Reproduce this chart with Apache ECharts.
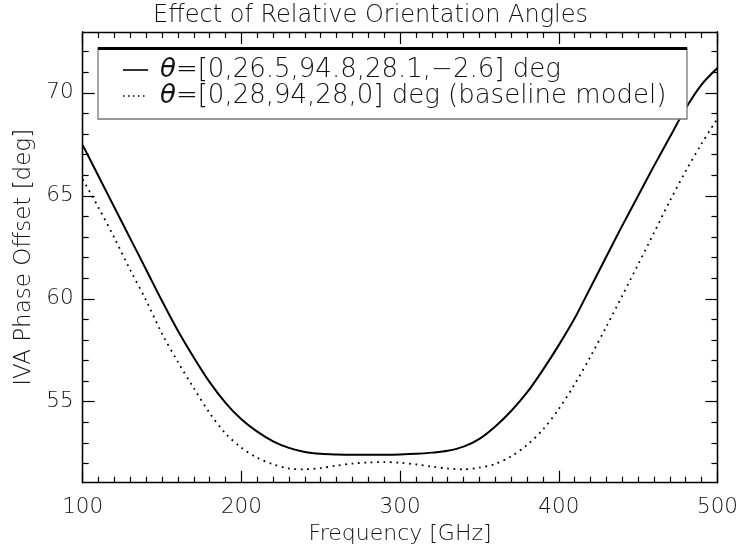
<!DOCTYPE html>
<html>
<head>
<meta charset="utf-8">
<script src="https://cdn.jsdelivr.net/npm/echarts@6/dist/echarts.min.js"></script>
<style>
html,body{margin:0;padding:0;background:#fff;}
#chart{width:741px;height:554px;}
</style>
</head>
<body>
<div id="chart"></div>
<script>
// ---- data ----
const freq = [100,110,120,130,140,150,160,170,180,190,200,210,220,230,240,250,260,270,280,290,300,
              310,320,330,340,350,360,370,380,390,400,410,420,430,440,450,460,470,480,490,500];
const fitted = [67.46,65.95,64.43,62.92,61.41,59.89,58.45,57.15,55.95,54.95,54.15,53.55,53.08,52.76,52.56,52.47,52.44,52.43,52.43,52.43,52.44,
                52.47,52.53,52.62,52.82,53.20,53.80,54.55,55.45,56.55,57.75,59.05,60.55,62.05,63.55,65.00,66.45,67.85,69.25,70.40,71.20];
const baseline = [65.80,64.42,62.95,61.39,59.92,58.30,56.93,55.66,54.45,53.46,52.77,52.28,51.96,51.76,51.72,51.78,51.90,52.00,52.05,52.07,52.04,
                  51.96,51.85,51.76,51.72,51.80,51.98,52.35,52.90,53.65,54.65,55.85,57.20,58.65,60.15,61.67,63.20,64.75,66.20,67.53,68.75];
const yMajorTicks = [55,60,65,70];
const yMinorTicks = [52,53,54,56,57,58,59,61,62,63,64,66,67,68,69,71,72];
const titleText = 'Effect of Relative Orientation Angles';
const xName = 'Frequency [GHz]';
const yName = 'IVA Phase Offset [deg]';
const legendSymbol = 'θ';
const legend1 = '=[0,26.5,94.8,28.1,−2.6] deg';
const legend2 = '=[0,28,94,28,0] deg (baseline model)';

const X_MIN = 100, X_MAX = 500, Y_MIN = 51.07, Y_MAX = 72.95;
const FONT = "'DejaVu Sans', sans-serif";
const TXT = '#111';

const chart = echarts.init(document.getElementById('chart'));
const lineCol = '#000';
function yAx(pos, major, showLabel){
  return {
    type:'value', min:Y_MIN, max:Y_MAX, position:pos, scale:true,
    axisLine:{show:true, onZero:false, lineStyle:{color:lineCol,width:1.3}},
    axisTick:{show:true, inside:true, length: major?12:6, customValues: major?yMajorTicks:yMinorTicks, lineStyle:{color:lineCol,width:1.2}},
    axisLabel:{show:showLabel, customValues: yMajorTicks, margin:9, fontFamily:FONT, fontSize:21.5, color:TXT, fontWeight:200},
    splitLine:{show:false}
  };
}
function xAx(pos, showLabel){
  return {
    type:'value', min:X_MIN, max:X_MAX, interval:100, position:pos,
    axisLine:{show:true, onZero:false, lineStyle:{color:lineCol,width:1.3}},
    axisTick:{show:true, inside:true, length:12, lineStyle:{color:lineCol,width:1.2}},
    minorTick:{show:true, splitNumber:10, length:6, lineStyle:{color:lineCol,width:1.2}},
    axisLabel:{show:showLabel, margin:14, fontFamily:FONT, fontSize:21.5, color:TXT, fontWeight:200},
    splitLine:{show:false}, minorSplitLine:{show:false}
  };
}
const xA = xAx('bottom', true);
xA.name = xName; xA.nameLocation = 'middle'; xA.nameGap = 41;
xA.nameTextStyle = {fontFamily:FONT, fontSize:22, color:TXT, fontWeight:200};
const yA = yAx('left', true, true);
yA.name = yName; yA.nameLocation = 'middle'; yA.nameGap = 41;
yA.nameTextStyle = {fontFamily:FONT, fontSize:23, color:TXT, fontWeight:200};

const legRich = {
  th:{fontFamily:FONT, fontSize:26, fontStyle:'italic', fontWeight:200, fill:TXT},
  t:{fontFamily:FONT, fontSize:26, fontWeight:200, fill:TXT}
};

const option = {
  animation:false,
  backgroundColor:'#fff',
  title:{text:titleText, left:'center', top:-1, textStyle:{fontFamily:FONT, fontSize:24, fontWeight:200, color:TXT}},
  grid:{left:82.7, right:22, top:32, bottom:71.3, containLabel:false},
  xAxis:[xA, xAx('top', false)],
  yAxis:[yA, yAx('left', false, false), yAx('right', true, false), yAx('right', false, false)],
  series:[
    {type:'line', name:'fitted', xAxisIndex:0, yAxisIndex:0, data: freq.map((f,i)=>[f,fitted[i]]),
     showSymbol:false, smooth:0.3, lineStyle:{color:'#000', width:2}, z:3},
    {type:'line', name:'baseline', xAxisIndex:0, yAxisIndex:0, data: freq.map((f,i)=>[f,baseline[i]]),
     showSymbol:false, smooth:0.3, lineStyle:{color:'#000', width:1.8, type:[1.8,4.6]}, z:3}
  ],
  graphic:[
    {type:'rect', shape:{x:98, y:48, width:589, height:71}, style:{fill:'#fff', stroke:'#777', lineWidth:1.3}, z:10},
    {type:'line', shape:{x1:98, y1:48.5, x2:687, y2:48.5}, style:{stroke:'#000', lineWidth:3}, z:11},
    {type:'line', shape:{x1:123, y1:70, x2:148, y2:70}, style:{stroke:'#000', lineWidth:1.6}, z:11},
    {type:'line', shape:{x1:123, y1:96, x2:148, y2:96}, style:{stroke:'#000', lineWidth:1.6, lineDash:[1.5,3.5]}, z:11},
    {type:'text', x:160, y:70, style:{text:'{th|'+legendSymbol+'}{t|'+legend1+'}', rich:legRich, fontFamily:FONT, fontSize:26, fontWeight:200, fill:TXT, verticalAlign:'middle'}, z:11},
    {type:'text', x:160, y:96, style:{text:'{th|'+legendSymbol+'}{t|'+legend2+'}', rich:legRich, fontFamily:FONT, fontSize:26, fontWeight:200, fill:TXT, verticalAlign:'middle'}, z:11}
  ]
};
chart.setOption(option);
</script>
</body>
</html>
